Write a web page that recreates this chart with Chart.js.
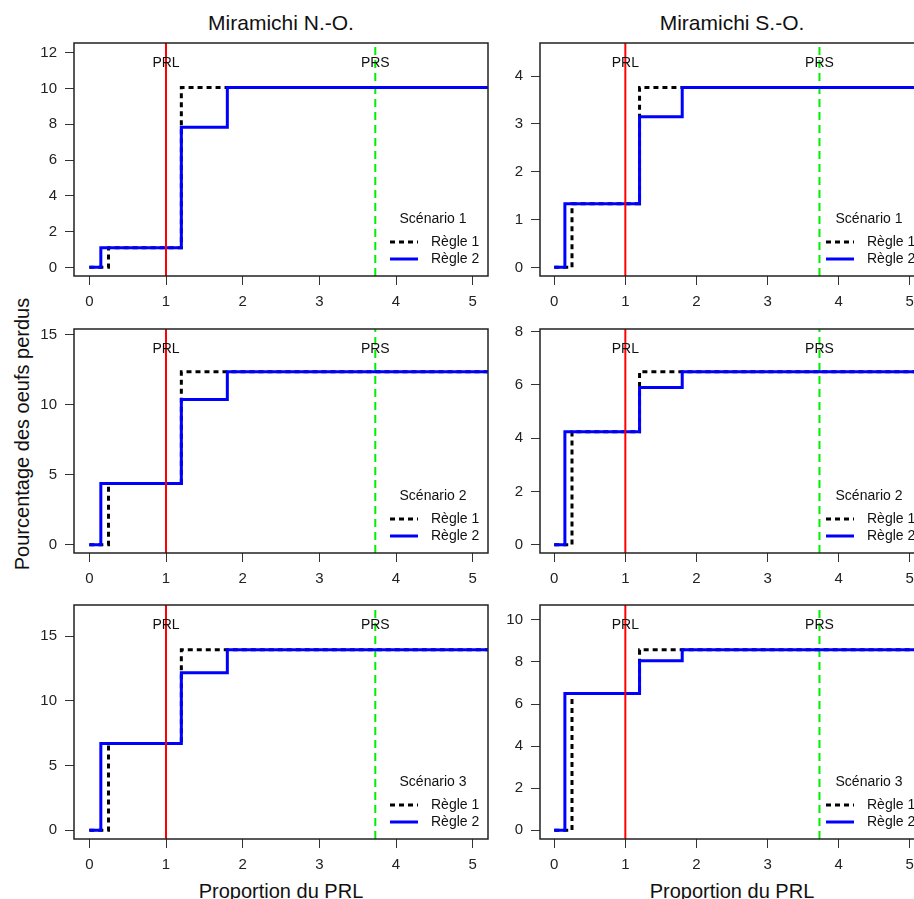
<!DOCTYPE html>
<html lang="fr">
<head>
<meta charset="UTF-8">
<title>Miramichi - oeufs perdus</title>
<style>
    body {
        margin: 0;
        width: 914px;
        height: 899px;
        overflow: hidden;
        position: relative;
        background: #fff;
        font-family: "Liberation Sans", Arial, sans-serif;
        color: #111;
    }
    canvas { position: absolute; }
    .title, .xtitle {
        position: absolute;
        width: 300px;
        text-align: center;
        white-space: nowrap;
    }
    .title { font-size: 21px; line-height: 22px; top: 12px; }
    .xtitle { font-size: 20px; line-height: 20px; top: 881px; }
    #ytitle {
        position: absolute;
        left: 22px;
        top: 434px;
        width: 400px;
        text-align: center;
        font-size: 20px;
        line-height: 20px;
        transform: translate(-50%, -50%) rotate(-90deg);
        white-space: nowrap;
    }
</style>
</head>
<body>

<div class="title" style="left:131px">Miramichi N.-O.</div>
<div class="title" style="left:582px">Miramichi S.-O.</div>
<div id="ytitle">Pourcentage des oeufs perdus</div>
<div class="xtitle" style="left:131px">Proportion du PRL</div>
<div class="xtitle" style="left:582px">Proportion du PRL</div>

<canvas id="c11"></canvas>
<canvas id="c12"></canvas>
<canvas id="c21"></canvas>
<canvas id="c22"></canvas>
<canvas id="c31"></canvas>
<canvas id="c32"></canvas>

<script src="https://cdn.jsdelivr.net/npm/chart.js"></script>
<script>
// x breakpoints of the step functions (proportion du PRL)
var xTicks = [0, 1, 2, 3, 4, 5];
var stepXRegle1 = [0, 0.25, 1.2, 1.8, 5.5];
var stepXRegle2 = [0, 0.15, 1.2, 1.8, 5.5];
var prl = 1;
var prs = 3.73;

// Miramichi N.-O. : pourcentage des oeufs perdus
var noS1Regle1 = [0, 1.10, 10.05, 10.05, 10.05];
var noS1Regle2 = [0, 1.10, 7.83, 10.05, 10.05];
var noS2Regle1 = [0, 4.38, 12.35, 12.35, 12.35];
var noS2Regle2 = [0, 4.38, 10.37, 12.35, 12.35];
var noS3Regle1 = [0, 6.72, 13.96, 13.96, 13.96];
var noS3Regle2 = [0, 6.72, 12.18, 13.96, 13.96];

// Miramichi S.-O.
var soS1Regle1 = [0, 1.33, 3.76, 3.76, 3.76];
var soS1Regle2 = [0, 1.33, 3.15, 3.76, 3.76];
var soS2Regle1 = [0, 4.24, 6.49, 6.49, 6.49];
var soS2Regle2 = [0, 4.24, 5.90, 6.49, 6.49];
var soS3Regle1 = [0, 6.50, 8.58, 8.58, 8.58];
var soS3Regle2 = [0, 6.50, 8.06, 8.58, 8.58];

// y tick labels per panel
var yTicksNO1 = [0, 2, 4, 6, 8, 10, 12];
var yTicksNO2 = [0, 5, 10, 15];
var yTicksNO3 = [0, 5, 10, 15];
var yTicksSO1 = [0, 1, 2, 3, 4];
var yTicksSO2 = [0, 2, 4, 6, 8];
var yTicksSO3 = [0, 2, 4, 6, 8, 10];

var scenarios = ['Scénario 1', 'Scénario 2', 'Scénario 3'];
var ruleLabels = ['Règle 1', 'Règle 2'];

var FONT = '"Liberation Sans", Arial, sans-serif';

// plot box positions (left col / right col, rows)
var cols = [
    { left: 14, axisW: 60, plotW: 414 },
    { left: 495, axisW: 45, plotW: 384 }
];
var rows = [
    { top: 43, bottom: 276 },
    { top: 329, bottom: 553 },
    { top: 605, bottom: 839 }
];
var PAD = 4, XAXIS_H = 45;

function toPoints(xs, ys) {
    return xs.map(function (x, i) { return { x: x, y: ys[i] }; });
}

// chart.js reserves room for half tick labels at the edges, we place the box ourselves
function noEdgePadding(s) {
    s.paddingTop = 0;
    s.paddingBottom = 0;
    s.paddingLeft = 0;
    s.paddingRight = 0;
}

var decorPlugin = {
    id: 'decor',
    afterDraw: function (chart) {
        var ctx = chart.ctx, a = chart.chartArea;
        var xs = chart.scales.x;
        var opts = chart.options.plugins.decor;
        ctx.save();
        // box
        ctx.strokeStyle = '#222';
        ctx.lineWidth = 1.5;
        ctx.strokeRect(a.left, a.top, a.right - a.left, a.bottom - a.top);

        ctx.fillStyle = '#111';
        ctx.font = '14px ' + FONT;
        ctx.textAlign = 'center';
        ctx.textBaseline = 'middle';
        ctx.fillText('PRL', xs.getPixelForValue(prl), a.top + 20);
        ctx.fillText('PRS', xs.getPixelForValue(prs), a.top + 20);

        // legend, bottom right
        ctx.fillText(opts.scenario, a.right - 55, a.bottom - 57);
        ctx.textAlign = 'left';
        var items = [
            { label: ruleLabels[0], color: '#000', dash: [5, 4], dy: 34 },
            { label: ruleLabels[1], color: '#0000ff', dash: [], dy: 17 }
        ];
        items.forEach(function (it) {
            var y = a.bottom - it.dy;
            ctx.beginPath();
            ctx.setLineDash(it.dash);
            ctx.strokeStyle = it.color;
            ctx.lineWidth = 3;
            ctx.moveTo(a.right - 98, y);
            ctx.lineTo(a.right - 70, y);
            ctx.stroke();
            ctx.fillText(it.label, a.right - 57, y);
        });
        ctx.restore();
    }
};

function makePanel(id, col, row, regle1, regle2, yTicks, scenario) {
    var c = cols[col], r = rows[row];
    var canvas = document.getElementById(id);
    var w = c.axisW + c.plotW + PAD;
    var h = PAD + (r.bottom - r.top) + XAXIS_H;
    canvas.width = w;
    canvas.height = h;
    canvas.style.left = c.left + 'px';
    canvas.style.top = (r.top - PAD) + 'px';

    var top = 1.2 * Math.max.apply(null, regle1.concat(regle2));
    var yMin = -0.04 * top, yMax = 1.04 * top;

    new Chart(canvas.getContext('2d'), {
        type: 'line',
        data: {
            datasets: [
                {
                    label: 'PRL',
                    data: [{ x: prl, y: yMin }, { x: prl, y: yMax }],
                    borderColor: '#ff0000',
                    borderWidth: 2,
                    pointRadius: 0,
                    order: 0
                },
                {
                    label: ruleLabels[1],
                    data: toPoints(stepXRegle2, regle2),
                    borderColor: '#0000ff',
                    borderWidth: 3,
                    stepped: 'before',
                    pointRadius: 0,
                    order: 1
                },
                {
                    label: ruleLabels[0],
                    data: toPoints(stepXRegle1, regle1),
                    borderColor: '#000000',
                    borderWidth: 3,
                    borderDash: [5, 4],
                    stepped: 'before',
                    pointRadius: 0,
                    order: 2
                },
                {
                    label: 'PRS',
                    data: [{ x: prs, y: yMin }, { x: prs, y: yMax }],
                    borderColor: '#00ee00',
                    borderWidth: 2,
                    borderDash: [8, 5],
                    pointRadius: 0,
                    order: 3
                }
            ]
        },
        options: {
            responsive: false,
            animation: false,
            events: [],
            layout: { padding: { top: PAD, right: PAD, bottom: 0, left: 0 } },
            plugins: {
                legend: { display: false },
                tooltip: { enabled: false },
                decor: { scenario: scenario }
            },
            scales: {
                x: {
                    type: 'linear',
                    min: -0.2,
                    max: 5.2,
                    afterBuildTicks: function (s) { s.ticks = xTicks.map(function (v) { return { value: v }; }); },
                    afterFit: function (s) { s.height = XAXIS_H; noEdgePadding(s); },
                    grid: { drawOnChartArea: false, tickLength: 9, color: '#333', lineWidth: 1 },
                    border: { display: false },
                    ticks: { autoSkip: false, maxRotation: 0, padding: 8, color: '#222', font: { family: FONT, size: 15 } }
                },
                y: {
                    type: 'linear',
                    min: yMin,
                    max: yMax,
                    afterBuildTicks: function (s) { s.ticks = yTicks.map(function (v) { return { value: v }; }); },
                    afterFit: function (s) { s.width = c.axisW; noEdgePadding(s); },
                    grid: { drawOnChartArea: false, tickLength: 9, color: '#333', lineWidth: 1 },
                    border: { display: false },
                    ticks: { autoSkip: false, padding: 8, color: '#222', font: { family: FONT, size: 15 } }
                }
            }
        },
        plugins: [decorPlugin]
    });
}

makePanel('c11', 0, 0, noS1Regle1, noS1Regle2, yTicksNO1, scenarios[0]);
makePanel('c12', 1, 0, soS1Regle1, soS1Regle2, yTicksSO1, scenarios[0]);
makePanel('c21', 0, 1, noS2Regle1, noS2Regle2, yTicksNO2, scenarios[1]);
makePanel('c22', 1, 1, soS2Regle1, soS2Regle2, yTicksSO2, scenarios[1]);
makePanel('c31', 0, 2, noS3Regle1, noS3Regle2, yTicksNO3, scenarios[2]);
makePanel('c32', 1, 2, soS3Regle1, soS3Regle2, yTicksSO3, scenarios[2]);
</script>
</body>
</html>
